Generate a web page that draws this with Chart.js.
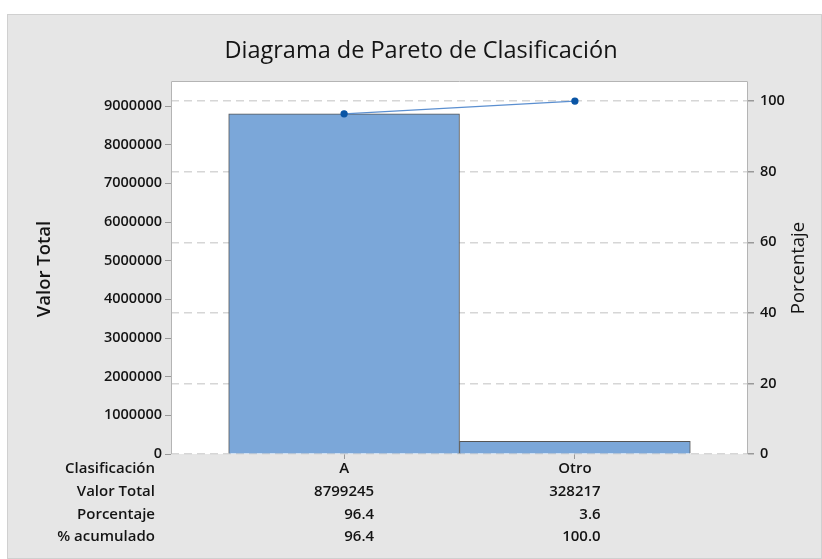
<!DOCTYPE html>
<html>
<head>
<meta charset="utf-8">
<script src="https://cdn.jsdelivr.net/npm/chart.js@4"></script>
<style>
  body { margin: 0; background: #fff; }
  #wrap { position: absolute; left: 7px; top: 14px; width: 815px; height: 545px; }
</style>
</head>
<body>
<div id="wrap"><canvas id="chart" width="815" height="545"></canvas></div>
<script>
// data
const categories = ['A', 'Otro'];
const values = [8799245, 328217];
const percents = [96.4, 3.6];
const cumulative = [96.4, 100.0];
const rowLabels = ['Clasificación', 'Valor Total', 'Porcentaje', '% acumulado'];
const valueTicks = [0, 1000000, 2000000, 3000000, 4000000, 5000000, 6000000, 7000000, 8000000, 9000000];
const pctTicks = [0, 20, 40, 60, 80, 100];
const pctTicksMax = 105.7;   // right axis goes a bit past 100

const total = values.reduce((a, b) => a + b, 0);
const leftMax = total * pctTicksMax / 100;

const FONT = '"Open Sans", "DejaVu Sans", sans-serif';
const TXT = '#141414';

// background, frame, titles and the table under the chart
const extras = {
    id: 'extras',
    beforeDraw(chart) {
        const c = chart.ctx;
        c.save();
        c.fillStyle = '#e6e6e6';
        c.fillRect(0, 0, chart.width, chart.height);
        c.strokeStyle = '#d0d0d0';
        c.strokeRect(0.5, 0.5, chart.width - 1, chart.height - 1);
        const a = chart.chartArea;
        c.fillStyle = '#fff';
        c.fillRect(a.left, a.top, a.right - a.left, a.bottom - a.top);
        c.restore();
    },
    afterDraw(chart) {
        const c = chart.ctx;
        const a = chart.chartArea;
        c.save();
        // frame: left, top, right
        c.strokeStyle = '#b4b4b4';
        c.lineWidth = 1;
        c.beginPath();
        c.moveTo(a.left + 0.5, a.bottom);
        c.lineTo(a.left + 0.5, a.top + 0.5);
        c.lineTo(a.right - 0.5, a.top + 0.5);
        c.lineTo(a.right - 0.5, a.bottom);
        c.stroke();

        c.fillStyle = TXT;
        c.textBaseline = 'middle';
        c.textAlign = 'center';
        c.font = '500 23.5px ' + FONT;
        c.fillText('Diagrama de Pareto de Clasificación', 414, 37);

        c.font = '600 18.5px ' + FONT;
        c.save();
        c.translate(38, 255);
        c.rotate(-Math.PI / 2);
        c.fillText('Valor Total', 0, 0);
        c.restore();
        c.font = '500 18.5px ' + FONT;
        c.save();
        c.translate(792, 254);
        c.rotate(-Math.PI / 2);
        c.fillText('Porcentaje', 0, 0);
        c.restore();

        // table
        const rowsY = [455, 478, 501, 523];
        c.font = '600 15px ' + FONT;
        c.textAlign = 'right';
        rowLabels.forEach((t, i) => c.fillText(t, 148, rowsY[i]));
        const xs = chart.scales.x;
        categories.forEach((cat, j) => {
            const cx = xs.getPixelForValue(j);
            const cells = [String(values[j]), percents[j].toFixed(1), cumulative[j].toFixed(1)];
            const w = Math.max(...cells.map(s => c.measureText(s).width), c.measureText(cat).width);
            c.textAlign = 'center';
            c.fillText(cat, cx, rowsY[0]);
            c.textAlign = 'right';
            cells.forEach((s, i) => c.fillText(s, cx + w / 2, rowsY[i + 1]));
        });
        c.restore();
    }
};

const ctx = document.getElementById('chart').getContext('2d');
const myChart = new Chart(ctx, {
    data: {
        datasets: [{
            type: 'line',
            label: '% acumulado',
            data: categories.map((c, i) => ({ x: i, y: cumulative[i] })),
            yAxisID: 'y1',
            borderColor: '#5b8fd0',
            borderWidth: 1.3,
            pointRadius: 3,
            pointBackgroundColor: '#0a55a5',
            pointBorderColor: '#0a55a5',
            order: 0
        }, {
            type: 'bar',
            label: 'Valor Total',
            data: categories.map((c, i) => ({ x: i, y: values[i] })),
            yAxisID: 'y',
            backgroundColor: '#7ba7d9',
            borderColor: '#555',
            borderWidth: 1,
            barPercentage: 1,
            categoryPercentage: 1,
            order: 1
        }]
    },
    options: {
        responsive: false,
        animation: false,
        layout: { padding: { top: 67, left: 0, right: 0, bottom: 0 } },
        plugins: { legend: { display: false }, tooltip: { enabled: false } },
        scales: {
            x: {
                type: 'linear',
                offset: false,
                min: -0.75,
                max: 1.75,
                afterBuildTicks: s => { s.ticks = categories.map((c, i) => ({ value: i })); },
                afterFit: s => { s.height = 105; },
                grid: { drawOnChartArea: false, offset: false, tickLength: 5, tickColor: '#999' },
                border: { display: false },
                ticks: { color: 'rgba(0,0,0,0)', callback: () => '' }
            },
            y: {
                position: 'left',
                min: 0,
                max: leftMax,
                afterBuildTicks: s => { s.ticks = valueTicks.map(v => ({ value: v })); },
                afterFit: s => { s.width = 164; },
                grid: { drawOnChartArea: false, tickLength: 6, tickColor: '#999' },
                border: { display: false },
                ticks: {
                    padding: 3,
                    color: TXT,
                    font: { family: FONT, size: 14.5, weight: '600' },
                    callback: v => String(v)
                }
            },
            y1: {
                position: 'right',
                min: 0,
                max: pctTicksMax,
                afterBuildTicks: s => { s.ticks = pctTicks.map(v => ({ value: v })); },
                afterFit: s => { s.width = 74; },
                grid: { color: '#d6d6d6', lineWidth: 1.5, tickLength: 6, tickColor: '#999', tickBorderDash: [] },
                border: { display: false, dash: [8, 5] },
                ticks: {
                    padding: 6,
                    color: TXT,
                    font: { family: FONT, size: 14.5, weight: '600' }
                }
            }
        }
    },
    plugins: [extras]
});
</script>
</body>
</html>
